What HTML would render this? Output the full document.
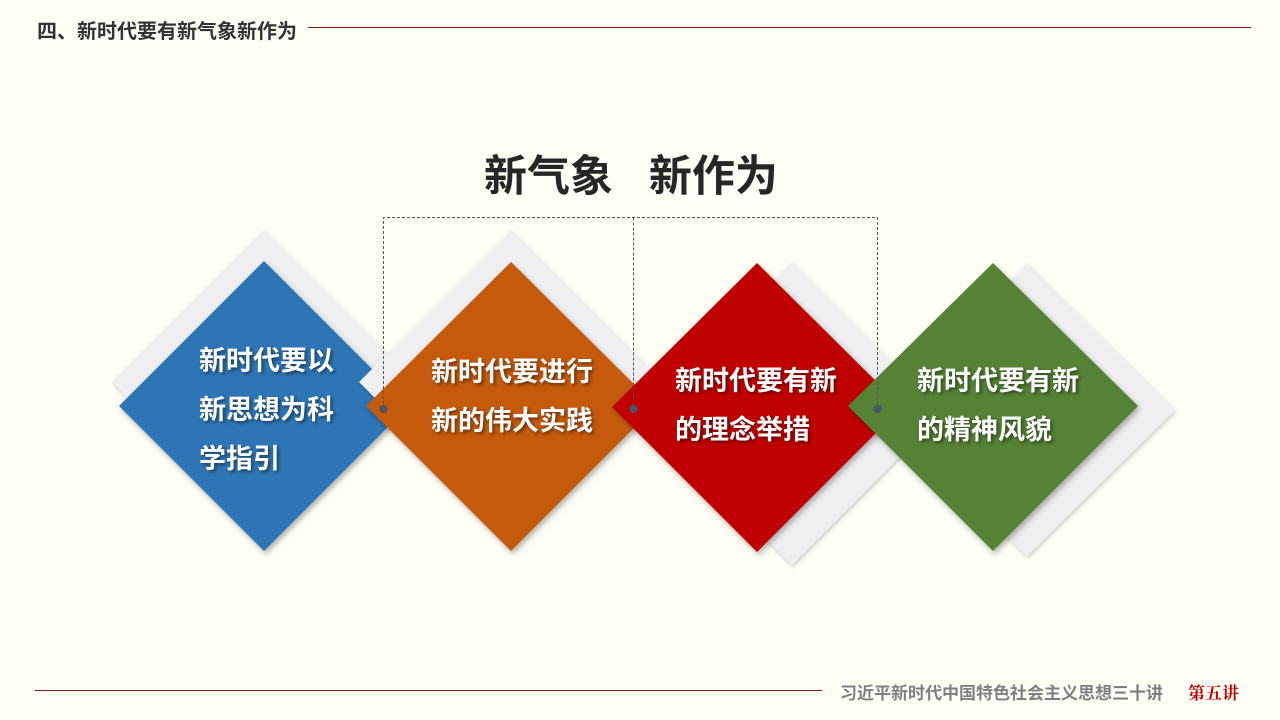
<!DOCTYPE html>
<html><head><meta charset="utf-8"><style>
html,body{margin:0;padding:0;}
body{width:1280px;height:720px;background:#fefef5;position:relative;overflow:hidden;font-family:"Liberation Sans","Noto Sans CJK SC",sans-serif;}
.t{position:absolute;white-space:nowrap;}
.d{position:absolute;color:#fff;font-weight:bold;font-size:27px;line-height:49px;text-shadow:2px 2px 3px rgba(0,0,0,0.45);white-space:nowrap;}
</style></head><body>
<div class="t" style="left:37px;top:15px;font-size:20px;font-weight:bold;color:#333;">四、新时代要有新气象新作为</div>
<div style="position:absolute;left:308px;top:27px;width:943px;height:1px;background:#8b1a1a;"></div>
<div class="t" style="left:484px;top:142px;font-size:43px;font-weight:bold;color:#262626;">新气象&nbsp;&nbsp;&nbsp;新作为</div>
<svg width="1280" height="720" style="position:absolute;left:0;top:0">
<defs><filter id="sh" x="-20%" y="-20%" width="140%" height="140%"><feDropShadow dx="2" dy="3" stdDeviation="3" flood-color="#000" flood-opacity="0.3"/></filter>
<filter id="sh2" x="-20%" y="-20%" width="140%" height="140%"><feDropShadow dx="1" dy="2" stdDeviation="2" flood-color="#000" flood-opacity="0.2"/></filter></defs>
<polygon points="264,230 416,382 264,534 112,382" fill="#efeff1" filter="url(#sh2)"/>
<polygon points="264,261 409,406 264,551 119,406" fill="#2e74b5" filter="url(#sh)"/>
<polygon points="511,230 663,382 511,534 359,382" fill="#efeff1" filter="url(#sh2)"/>
<polygon points="511,262 656,406 511,551 366,406" fill="#c55a11" filter="url(#sh)"/>
<polygon points="792,262 943,413 792,565 641,413" fill="#efeff1" filter="url(#sh2)"/>
<polygon points="757,263 902,407 757,552 612,407" fill="#c00000" filter="url(#sh)"/>
<polygon points="1027,263 1175,410 1027,556 879,410" fill="#efeff1" filter="url(#sh2)"/>
<polygon points="993,263 1138,406 993,551 848,406" fill="#548235" filter="url(#sh)"/>
<g stroke="#555" stroke-width="1" stroke-dasharray="3,2" fill="none">
<path d="M383.5,409 V217.5 H877.5 V409"/><path d="M633.5,217.5 V409"/></g>
<g fill="#4a5566"><circle cx="383.5" cy="409" r="4"/><circle cx="633.5" cy="409" r="4"/><circle cx="877.5" cy="409" r="4"/></g>
</svg>
<div class="d" style="left:199px;top:337px;">新时代要以<br>新思想为科<br>学指引</div>
<div class="d" style="left:431px;top:348px;">新时代要进行<br>新的伟大实践</div>
<div class="d" style="left:675px;top:357px;">新时代要有新<br>的理念举措</div>
<div class="d" style="left:917px;top:357px;">新时代要有新<br>的精神风貌</div>
<div style="position:absolute;left:35px;top:690px;width:787px;height:1px;background:#8b1a1a;"></div>
<div class="t" style="left:840px;top:679px;font-size:17px;font-weight:bold;color:#7f7f7f;">习近平新时代中国特色社会主义思想三十讲</div>
<div class="t" style="left:1188px;top:679px;font-size:17px;font-weight:bold;color:#c00000;font-family:'Liberation Serif','Noto Serif CJK SC',serif;">第五讲</div>
</body></html>
